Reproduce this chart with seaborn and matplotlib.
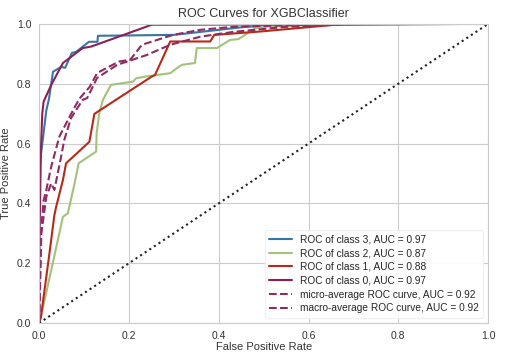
import numpy as np
import pandas as pd
import seaborn as sns
import matplotlib
matplotlib.use("Agg")
import matplotlib.pyplot as plt

# roc curve points
fpr_3 = [0.0, 0.0, 0.003, 0.016, 0.022, 0.031, 0.049, 0.058, 0.073, 0.082, 0.111, 0.13, 0.131, 0.30, 0.46, 0.60, 1.0]
tpr_3 = [0.0, 0.45, 0.55, 0.71, 0.75, 0.84, 0.856, 0.853, 0.903, 0.906, 0.94, 0.94, 0.96, 0.963, 0.99, 1.0, 1.0]

fpr_2 = [0.0, 0.004, 0.053, 0.064, 0.079, 0.088, 0.127, 0.128, 0.134, 0.142, 0.16, 0.209, 0.216, 0.238, 0.292, 0.307,
         0.318, 0.347, 0.351, 0.396, 0.425, 0.444, 0.481, 0.50, 0.67, 1.0]
tpr_2 = [0.0, 0.02, 0.355, 0.367, 0.467, 0.534, 0.573, 0.634, 0.701, 0.746, 0.796, 0.807, 0.818, 0.824, 0.835, 0.852,
         0.863, 0.869, 0.919, 0.919, 0.946, 0.949, 0.985, 0.99, 1.0, 1.0]

fpr_1 = [0.0, 0.004, 0.023, 0.034, 0.038, 0.053, 0.06, 0.112, 0.123, 0.171, 0.251, 0.258, 0.292, 0.381, 0.39,
         0.49, 0.66, 1.0]
tpr_1 = [0.0, 0.02, 0.233, 0.361, 0.389, 0.478, 0.534, 0.606, 0.699, 0.746, 0.824, 0.829, 0.941, 0.941, 0.963,
         0.974, 0.997, 1.0]

fpr_0 = [0.0, 0.0, 0.004, 0.007, 0.01, 0.027, 0.053, 0.097, 0.116, 0.238, 0.25, 1.0]
tpr_0 = [0.0, 0.2, 0.58, 0.70, 0.74, 0.796, 0.869, 0.919, 0.924, 0.99, 0.997, 1.0]

fpr_micro = [0.0, 0.004, 0.01, 0.016, 0.027, 0.045, 0.068, 0.082, 0.091, 0.113, 0.129, 0.142, 0.178, 0.203, 0.229,
             0.298, 0.359, 0.432, 0.55, 0.67, 1.0]
tpr_micro = [0.0, 0.3, 0.41, 0.445, 0.523, 0.623, 0.69, 0.729, 0.752, 0.79, 0.835, 0.846, 0.874, 0.88, 0.93,
             0.963, 0.98, 0.99, 0.995, 1.0, 1.0]

fpr_macro = [0.0, 0.005, 0.016, 0.027, 0.034, 0.049, 0.056, 0.071, 0.097, 0.107, 0.129, 0.174, 0.24, 0.292, 0.359,
             0.432, 0.55, 0.71, 1.0]
tpr_macro = [0.0, 0.3, 0.422, 0.467, 0.445, 0.556, 0.612, 0.685, 0.746, 0.752, 0.819, 0.863, 0.896, 0.93, 0.957,
             0.973, 0.99, 1.0, 1.0]

labels = ["ROC of class 3, AUC = 0.97", "ROC of class 2, AUC = 0.87",
          "ROC of class 1, AUC = 0.88", "ROC of class 0, AUC = 0.97",
          "micro-average ROC curve, AUC = 0.92", "macro-average ROC curve, AUC = 0.92"]

sns.set_style("whitegrid", {"grid.color": "#cccccc", "axes.edgecolor": "#cccccc"})
plt.rcParams['font.family'] = ['Liberation Sans', 'DejaVu Sans']

fig = plt.figure(figsize=(5.08, 3.61), dpi=100)
ax = fig.add_axes([0.077, 0.105, 0.884, 0.829])

curves = [(fpr_3, tpr_3, "#3a75a8", "-"), (fpr_2, tpr_2, "#a3c27a", "-"),
          (fpr_1, tpr_1, "#b82a18", "-"), (fpr_0, tpr_0, "#8c1f57", "-"),
          (fpr_micro, tpr_micro, "#922a62", "--"), (fpr_macro, tpr_macro, "#922a62", "--")]

for (fx, ty, col, ls), lab in zip(curves, labels):
    df = pd.DataFrame({"fpr": fx, "tpr": ty})
    sns.lineplot(data=df, x="fpr", y="tpr", ax=ax, color=col, linestyle=ls,
                 linewidth=1.5, sort=False, estimator=None, label=lab)

ax.plot([0, 1], [0, 1], linestyle=":", color="#222222", linewidth=1.5)

ax.set_xlim(0, 1)
ax.set_ylim(0, 1)
ax.set_xticks([0.0, 0.2, 0.4, 0.6, 0.8, 1.0])
ax.set_yticks([0.0, 0.2, 0.4, 0.6, 0.8, 1.0])
ax.tick_params(labelsize=7.5, colors="#333333", pad=2)
ax.set_title("ROC Curves for XGBClassifier", fontsize=9, color="#333333", pad=5)
ax.set_xlabel("False Positive Rate", fontsize=8, color="#333333", labelpad=1)
ax.set_ylabel("True Positive Rate", fontsize=8, color="#333333", labelpad=4)

leg = ax.legend(loc="lower right", fontsize=7.3, frameon=True, facecolor="white",
                edgecolor="#f0f0f0", framealpha=0.9, handlelength=2.2,
                labelspacing=0.38, borderpad=0.45)

fig.savefig("out.png", dpi=100)
